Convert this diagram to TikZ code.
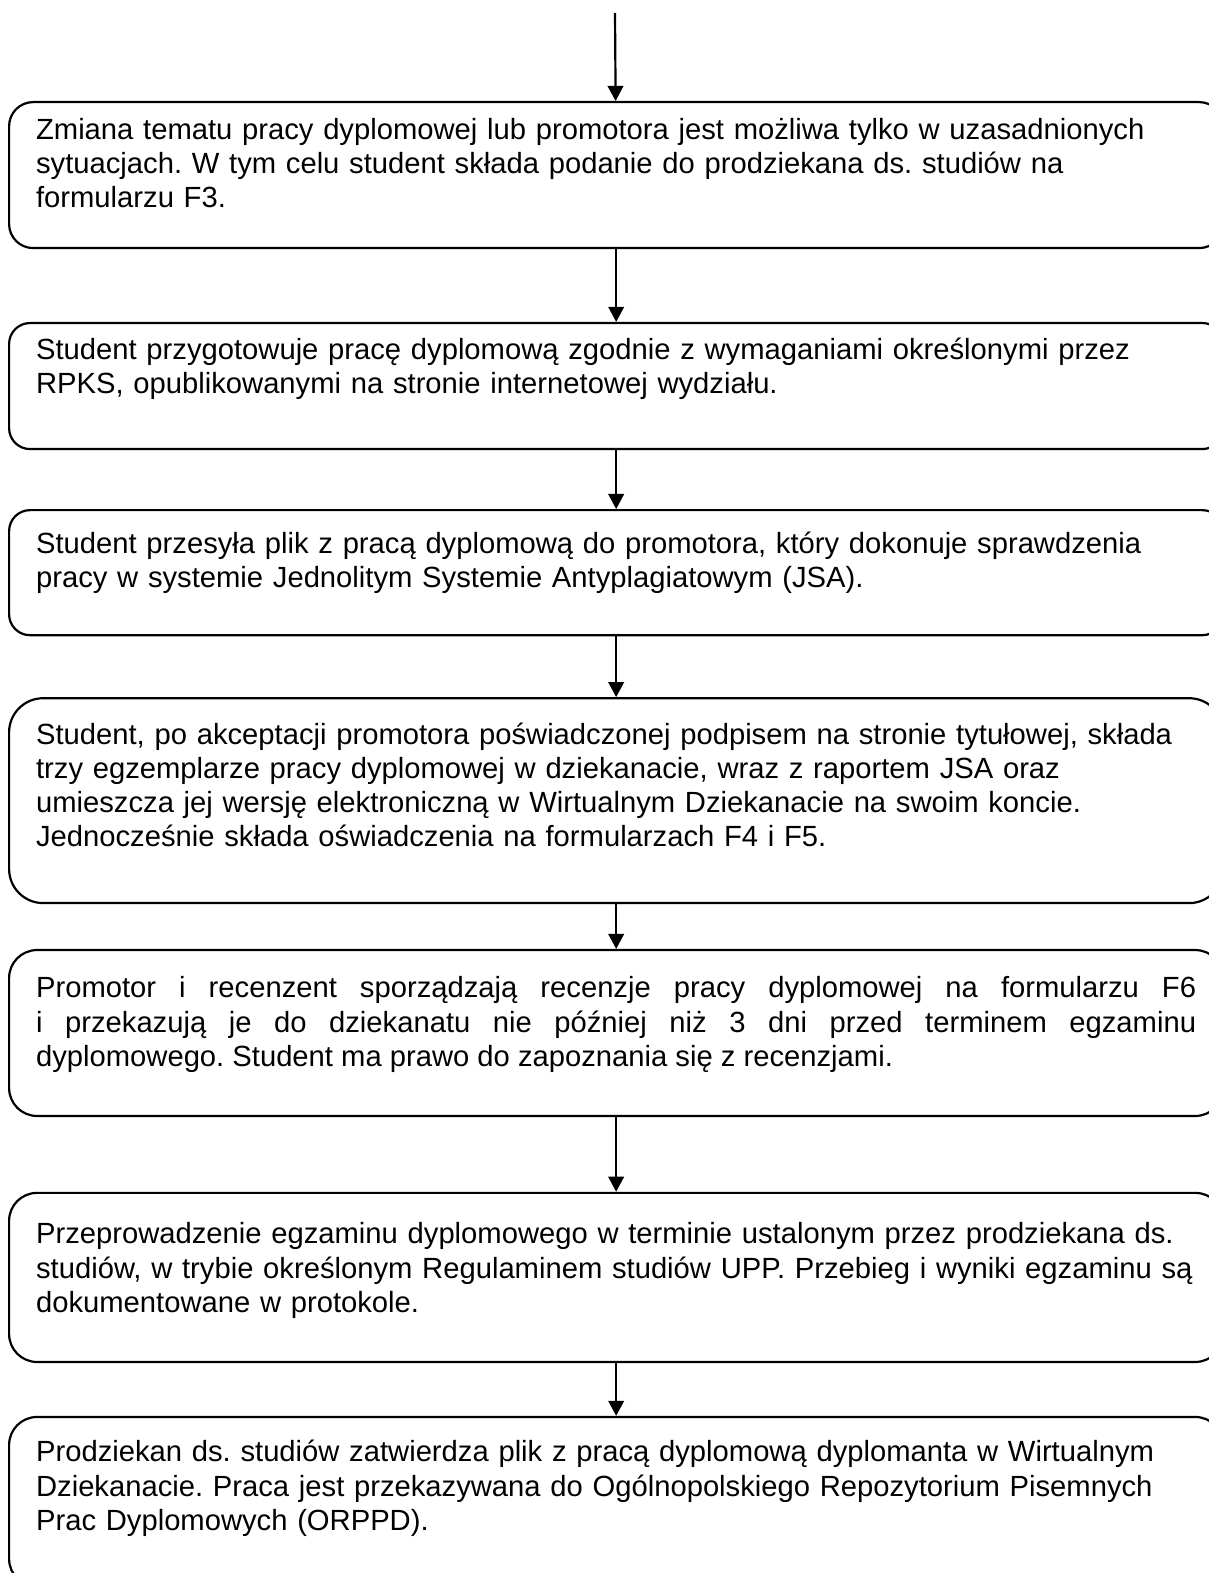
\documentclass[tikz,border=0pt]{standalone}
\usepackage{fontspec}
\setmainfont{Liberation Sans}
\usetikzlibrary{positioning,arrows.meta}
\frenchspacing

\begin{document}
\begin{tikzpicture}[x=0.411pt,y=-0.411pt,
    stepbox/.style n args={3}{draw,line width=0.9pt,rounded corners=#3,
      text width=476.8pt,inner xsep=11.1pt,inner ysep=0pt,align=left,
      font=\fontsize{12pt}{14pt}\selectfont,
      text height=#1,text depth=#2},
    flow/.style={line width=0.9pt,-{Triangle[length=6.2pt,width=6.4pt]}}]
  \useasboundingbox (0,0) rectangle (1208,1573);% page size
  \coordinate (start) at (615,13);
  \node[stepbox={15.3pt}{44.7pt}{9.9pt},anchor=north west] (temat) at (8,101)
    {Zmiana tematu pracy dyplomowej lub promotora jest możliwa tylko w uzasadnionych\\
     sytuacjach. W tym celu student składa podanie do prodziekana ds. studiów na\\
     formularzu F3.};
  \node[stepbox={14.8pt}{37pt}{8.6pt},below=29.9pt of temat] (praca)
    {Student przygotowuje pracę dyplomową zgodnie z wymaganiami określonymi przez\\
     RPKS, opublikowanymi na stronie internetowej wydziału.};
  \node[stepbox={17.9pt}{33.5pt}{8.6pt},below=24.2pt of praca] (jsa)
    {Student przesyła plik z pracą dyplomową do promotora, który dokonuje sprawdzenia\\
     pracy w systemie Jednolitym Systemie Antyplagiatowym (JSA).};
  \node[stepbox={18.9pt}{65.3pt}{14pt},below=25pt of jsa] (zlozenie)
    {Student, po akceptacji promotora poświadczonej podpisem na stronie tytułowej, składa\\
     trzy egzemplarze pracy dyplomowej w dziekanacie, wraz z raportem JSA oraz\\
     umieszcza jej wersję elektroniczną w Wirtualnym Dziekanacie na swoim koncie.\\
     Jednocześnie składa oświadczenia na formularzach F4 i F5.};
  \node[stepbox={19.7pt}{48.5pt}{11.5pt},align=justify,below=18.4pt of zlozenie] (recenzje)
    {Promotor i recenzent sporządzają recenzje pracy dyplomowej na formularzu F6\linebreak
     i~przekazują je do dziekanatu nie później niż 3 dni przed terminem egzaminu\linebreak
     dyplomowego. Student ma prawo do zapoznania się z recenzjami.};
  \node[stepbox={21pt}{48.5pt}{11.5pt},below=30.7pt of recenzje] (egzamin)
    {Przeprowadzenie egzaminu dyplomowego w terminie ustalonym przez prodziekana ds.\\
     studiów, w trybie określonym Regulaminem studiów UPP. Przebieg i wyniki egzaminu są\\
     dokumentowane w protokole.};
  \node[stepbox={18.5pt}{51.3pt}{11.5pt},below=21.7pt of egzamin] (orppd)
    {Prodziekan ds. studiów zatwierdza plik z pracą dyplomową dyplomanta w Wirtualnym\\
     Dziekanacie. Praca jest przekazywana do Ogólnopolskiego Repozytorium Pisemnych\\
     Prac Dyplomowych (ORPPD).};
  % strzalki
  \draw[flow] (start) -- (temat);
  \draw[flow] (temat) -- (praca);
  \draw[flow] (praca) -- (jsa);
  \draw[flow] (jsa) -- (zlozenie);
  \draw[flow] (zlozenie) -- (recenzje);
  \draw[flow] (recenzje) -- (egzamin);
  \draw[flow] (egzamin) -- (orppd);
\end{tikzpicture}
\end{document}
